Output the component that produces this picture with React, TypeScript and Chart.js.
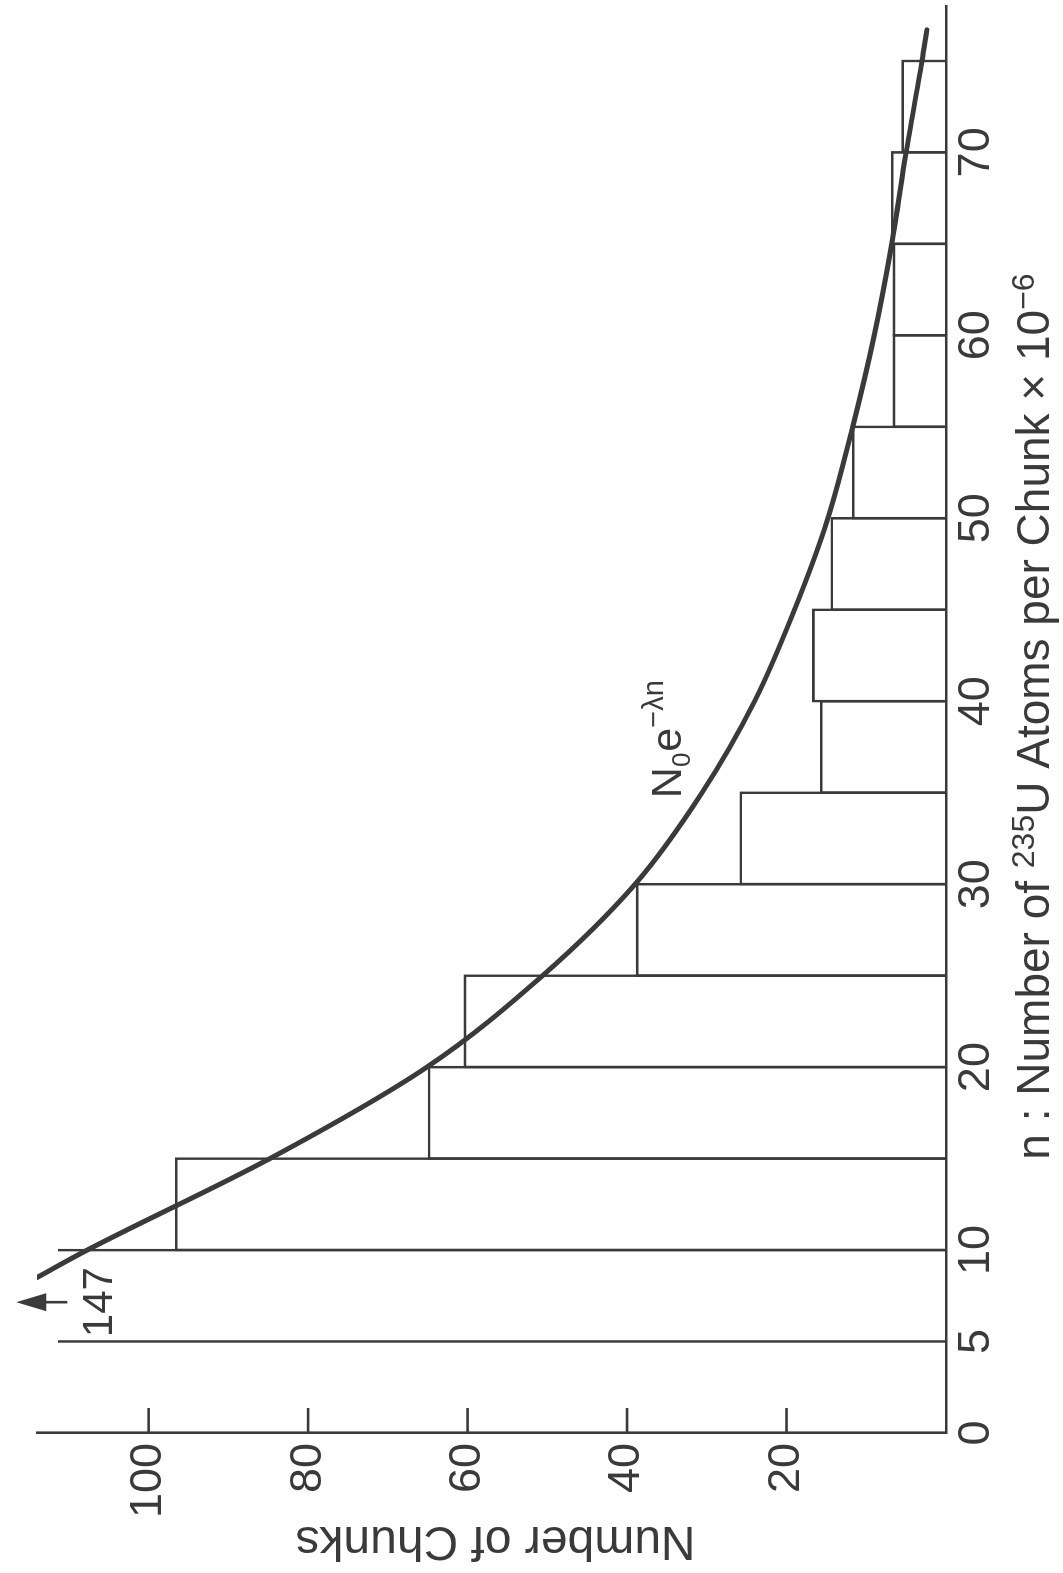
import React, { useEffect, useRef } from "react";
import { Chart, registerables } from "chart.js";

Chart.register(...registerables);

// ---- data ----
const BIN_CENTERS = [7.5, 12.5, 17.5, 22.5, 27.5, 32.5, 37.5, 42.5, 47.5, 52.5, 57.5, 62.5, 67.5, 72.5];
const BIN_COUNTS = [147, 96.7, 65, 60.5, 38.9, 25.9, 15.8, 16.8, 14.5, 11.8, 6.7, 6.7, 6.9, 5.6];

const CURVE_N = [8.5, 10, 15, 20, 25, 30, 35, 40, 45, 50, 55, 60, 65, 70, 75, 76.7];
const CURVE_V = [114, 107.7, 84.8, 65.1, 50.6, 39.0, 30.6, 24.0, 19.0, 14.8, 11.7, 9.0, 6.8, 5.0, 3.0, 2.4];

const X_TICKS = [0, 5, 10, 20, 30, 40, 50, 60, 70];
const Y_TICKS = [20, 40, 60, 80, 100];

const OFFSCALE_TEXT = "147";
const X_TITLE_PARTS = [
  { text: "n : Number of ", sup: false },
  { text: "235", sup: true },
  { text: "U Atoms per Chunk \u00d7 10", sup: false },
  { text: "\u22126", sup: true },
];
const Y_TITLE = "Number of Chunks";
const CURVE_LABEL_PARTS = [
  { text: "N", kind: "main" },
  { text: "0", kind: "sub" },
  { text: "e", kind: "main" },
  { text: "\u2212\u03bbn", kind: "sup" },
];

// ---- layout / style ----
const W = 1573;
const H = 1063;
const FG = "#3a3a3a";
const FONT = "'Liberation Sans', Arial, sans-serif";
const X_MAX = 78;
const Y_MAX = 114;

const annotations = {
  id: "annotations",
  afterDraw(chart: any) {
    const { ctx, chartArea } = chart;
    const xs = chart.scales.x;
    const ys = chart.scales.y;
    ctx.save();
    ctx.strokeStyle = FG;
    ctx.fillStyle = FG;

    // inward tick marks on the count axis
    ctx.lineWidth = 2.6;
    Y_TICKS.forEach((v) => {
      const py = ys.getPixelForValue(v);
      ctx.beginPath();
      ctx.moveTo(chartArea.left, py);
      ctx.lineTo(chartArea.left + 25, py);
      ctx.stroke();
    });

    // y title
    ctx.save();
    ctx.font = `48px ${FONT}`;
    ctx.textAlign = "center";
    ctx.textBaseline = "alphabetic";
    ctx.translate(46, (chartArea.top + chartArea.bottom) / 2 + 4);
    ctx.rotate(-Math.PI / 2);
    ctx.fillText(Y_TITLE, 0, 0);
    ctx.restore();

    // x title with superscripts
    const mainSize = 46;
    const supSize = 32;
    ctx.textAlign = "left";
    ctx.textBaseline = "alphabetic";
    let total = 0;
    const widths = X_TITLE_PARTS.map((p) => {
      ctx.font = `${p.sup ? supSize : mainSize}px ${FONT}`;
      const w = ctx.measureText(p.text).width;
      total += w;
      return w;
    });
    let cx = (chartArea.left + chartArea.right) / 2 + 3 - total / 2;
    const base = 1049;
    X_TITLE_PARTS.forEach((p, i) => {
      ctx.font = `${p.sup ? supSize : mainSize}px ${FONT}`;
      ctx.fillText(p.text, cx, p.sup ? base - 15 : base);
      cx += widths[i];
    });

    // off-scale count label and arrow
    const ax = xs.getPixelForValue(7.15);
    ctx.font = `42px ${FONT}`;
    ctx.textAlign = "center";
    ctx.fillText(OFFSCALE_TEXT, ax, ys.getPixelForValue(104.6));
    const shaftStart = ys.getPixelForValue(110.2);
    const tip = ys.getPixelForValue(116.6);
    ctx.lineWidth = 2.6;
    ctx.beginPath();
    ctx.moveTo(ax, shaftStart);
    ctx.lineTo(ax, tip + 20);
    ctx.stroke();
    ctx.beginPath();
    ctx.moveTo(ax, tip);
    ctx.lineTo(ax - 9, tip + 30);
    ctx.lineTo(ax + 9, tip + 30);
    ctx.closePath();
    ctx.fill();

    // curve label N0 e^{-λn}
    let lx = xs.getPixelForValue(34.7);
    const ly = ys.getPixelForValue(33.2);
    ctx.textAlign = "left";
    CURVE_LABEL_PARTS.forEach((p) => {
      const size = p.kind === "main" ? 43 : p.kind === "sub" ? 26 : 29;
      const dy = p.kind === "sub" ? 9 : p.kind === "sup" ? -18 : 0;
      ctx.font = `${size}px ${FONT}`;
      ctx.fillText(p.text, lx, ly + dy);
      lx += ctx.measureText(p.text).width + (p.kind === "sub" ? 1 : 0);
    });

    ctx.restore();
  },
};

export default function App() {
  const ref = useRef<HTMLCanvasElement | null>(null);

  useEffect(() => {
    const canvas = ref.current;
    if (!canvas) return;
    const barData = BIN_CENTERS.map((x, i) => ({ x, y: BIN_COUNTS[i] }));
    const curveData = CURVE_N.map((x, i) => ({ x, y: CURVE_V[i] }));

    const chart = new Chart(canvas, {
      type: "bar",
      data: {
        datasets: [
          {
            type: "line",
            data: curveData,
            borderColor: FG,
            borderWidth: 5,
            pointRadius: 0,
            fill: false,
            cubicInterpolationMode: "monotone",
            borderCapStyle: "round",
          } as any,
          {
            type: "bar",
            data: barData,
            backgroundColor: "rgba(0,0,0,0)",
            borderColor: FG,
            borderWidth: 2.6,
            borderSkipped: "start",
            barPercentage: 1 + 2.6 / 91.4,
            categoryPercentage: 1,
            clip: { left: 5, right: 5, bottom: 5, top: -21 },
          } as any,
        ],
      },
      options: {
        responsive: false,
        maintainAspectRatio: false,
        animation: false,
        devicePixelRatio: 1,
        layout: { padding: { top: 26, right: 6, left: 0, bottom: 0 } },
        plugins: {
          legend: { display: false },
          tooltip: { enabled: false },
          title: { display: false },
        },
        scales: {
          x: {
            type: "linear",
            min: 0,
            max: X_MAX,
            offset: false,
            grid: { display: false, drawTicks: false },
            border: { display: true, color: FG, width: 2.6 },
            afterBuildTicks: (s: any) => {
              s.ticks = X_TICKS.map((v) => ({ value: v }));
            },
            afterFit: (s: any) => {
              s.height = 117;
            },
            ticks: {
              color: FG,
              font: { family: FONT, size: 45, lineHeight: 1.2 },
              padding: 4,
              maxRotation: 0,
              autoSkip: false,
              callback: (v: any) => String(v),
            },
          },
          y: {
            type: "linear",
            min: 0,
            max: Y_MAX,
            grid: { display: false, drawTicks: false },
            border: { display: true, color: FG, width: 2.6 },
            afterBuildTicks: (s: any) => {
              s.ticks = Y_TICKS.map((v) => ({ value: v }));
            },
            afterFit: (s: any) => {
              s.width = 140;
            },
            ticks: {
              color: FG,
              font: { family: FONT, size: 45, lineHeight: 1.2 },
              padding: 10,
              autoSkip: false,
              callback: (v: any) => String(v),
            },
          },
        },
      } as any,
      plugins: [annotations],
    });
    return () => chart.destroy();
  }, []);

  return (
    <div
      style={{
        position: "fixed",
        left: 0,
        top: 0,
        width: W,
        height: H,
        background: "#fff",
        transformOrigin: "0 0",
        transform: `translateY(${W}px) rotate(-90deg)`,
      }}
    >
      <canvas ref={ref} width={W} height={H} style={{ display: "block", width: W, height: H }} />
    </div>
  );
}
